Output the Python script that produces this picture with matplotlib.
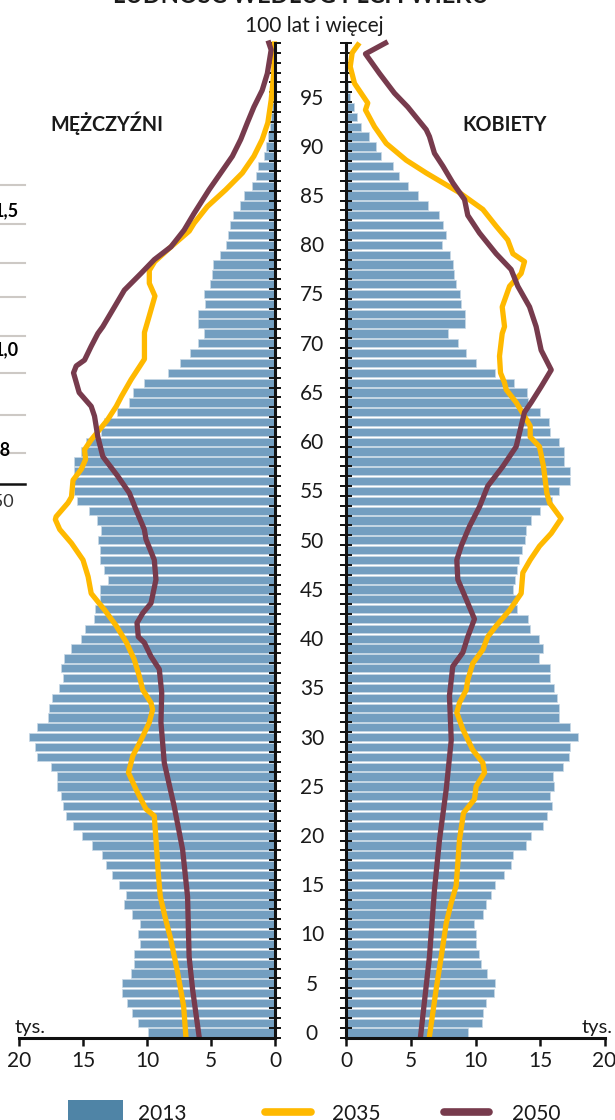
import numpy as np
import matplotlib.pyplot as plt
from matplotlib.patches import Rectangle
from matplotlib.lines import Line2D

plt.rcParams['font.family'] = ['Lato', 'DejaVu Sans']

# ludnosc w tys., wiek 0..100+
ages = np.arange(0, 101)
men_2013 = [9.91, 10.71, 11.15, 11.6, 11.93, 11.93, 11.28, 11.03, 11.03, 10.56,
            10.71, 10.56, 11.15, 11.8, 11.62, 12.22, 12.74, 13.18, 13.51, 14.32,
            15.04, 15.82, 16.32, 16.58, 16.73, 17.04, 17.04, 17.5, 18.6, 18.73,
            19.2, 18.62, 17.77, 17.64, 17.46, 16.89, 16.58, 16.73, 16.47, 15.95,
            15.18, 14.86, 14.14, 14.09, 13.67, 13.67, 13.05, 13.36, 13.67, 13.67,
            13.83, 13.62, 13.93, 14.55, 15.49, 15.74, 15.82, 15.7, 15.7, 15.18,
            14.73, 13.62, 13.36, 12.37, 11.44, 11.13, 10.2, 8.35, 7.45, 6.66,
            6.0, 5.54, 6.03, 6.03, 5.43, 5.54, 5.07, 4.94, 4.84, 4.3,
            3.8, 3.64, 3.52, 3.25, 2.74, 2.43, 1.83, 1.47, 1.35, 0.88,
            0.69, 0.56, 0.4, 0.3, 0.2, 0.12, 0.08, 0.05, 0.03, 0.02, 0.02]
women_2013 = [9.4, 10.52, 10.57, 10.78, 11.45, 11.55, 10.9, 10.44, 10.26, 10.05,
              10.05, 9.9, 10.62, 10.83, 11.19, 11.5, 12.2, 12.74, 12.89, 13.88,
              14.29, 15.22, 15.58, 15.9, 15.74, 16.07, 16.0, 16.77, 17.24, 17.36,
              17.96, 17.36, 16.51, 16.51, 16.3, 16.1, 15.74, 15.74, 14.96, 15.22,
              14.91, 14.26, 14.05, 13.2, 13.2, 12.89, 13.07, 13.23, 13.41, 13.57,
              13.85, 13.93, 14.32, 15.01, 15.92, 16.51, 17.29, 17.29, 16.87, 16.87,
              16.46, 15.79, 15.68, 14.99, 14.08, 14.0, 12.97, 11.55, 10.05, 9.3,
              8.68, 7.86, 9.22, 9.2, 8.84, 8.79, 8.48, 8.37, 8.29, 8.04,
              7.42, 7.73, 7.5, 7.16, 6.3, 5.53, 4.78, 4.06, 3.64, 2.71,
              2.3, 1.73, 1.14, 0.8, 0.6, 0.25, 0.12, 0.07, 0.05, 0.03, 0.02]

# prognozy
men_2035_age = [100.4, 97.4, 94.7, 92.4, 90.7, 89.0, 87.3, 85.6, 83.9, 82.2, 81.4,
                79.8, 78.3, 77.4, 76.1, 74.8, 72.8, 71.1, 68.4, 66.3, 64.6, 63.6,
                62.2, 60.2, 59.2, 58.2, 57.2, 56.1, 54.4, 53.8, 52.4, 52.1, 51.1,
                49.7, 48.0, 46.3, 44.6, 42.9, 41.3, 39.6, 37.9, 36.2, 34.8, 33.5,
                32.8, 31.5, 29.7, 28.1, 26.4, 24.7, 22.7, 22.0, 19.6, 16.2, 13.8,
                11.8, 9.4, 6.1, 2.7, -0.4]
men_2035 = [0.05, 0.1, 0.3, 0.56, 1.0, 1.65, 2.55, 3.85, 5.28, 6.32, 6.7,
            8.13, 9.4, 9.82, 9.82, 9.38, 9.82, 10.2, 10.2, 11.25, 12.0, 12.4,
            13.1, 14.36, 14.88, 14.8, 15.14, 15.78, 15.9, 16.17, 17.1, 17.16, 16.82,
            15.9, 15.0, 14.6, 14.36, 13.3, 12.4, 11.6, 11.0, 10.6, 10.33, 9.69,
            9.56, 9.82, 10.47, 11.11, 11.45, 10.86, 10.08, 9.43, 9.3, 9.12, 8.96,
            8.6, 8.13, 7.61, 7.14, 6.96]
men_2050_age = [100.5, 99.8, 97.4, 95.7, 94.0, 92.4, 90.7, 89.0, 87.3, 85.6, 83.2,
                81.5, 79.8, 78.5, 77.1, 75.4, 73.7, 71.7, 71.0, 69.7, 68.3, 67.7,
                67.0, 65.0, 63.6, 62.6, 60.5, 58.5, 56.5, 54.8, 53.1, 51.1, 50.1,
                48.0, 46.0, 43.6, 42.6, 41.6, 40.2, 39.6, 38.2, 36.9, 34.5, 31.5,
                27.4, 23.0, 18.6, 13.8, 7.7, 4.4, -0.4]
men_2050 = [0.48, 0.3, 0.6, 1.0, 1.65, 2.16, 2.68, 3.33, 4.24, 5.15, 6.32,
            7.1, 8.13, 9.43, 10.47, 11.77, 12.54, 13.45, 13.84, 14.36, 14.88, 15.53,
            15.74, 15.3, 14.36, 14.1, 13.84, 13.45, 12.28, 11.38, 10.86, 10.21, 10.08,
            9.43, 9.3, 9.69, 10.33, 10.78, 10.68, 10.21, 9.69, 9.04, 8.85, 8.91,
            8.65, 7.88, 7.22, 6.83, 6.71, 6.44, 5.93]
women_2035_age = [100.3, 99.5, 98.1, 96.4, 94.4, 93.7, 92.0, 90.3, 88.6, 87.3, 86.3,
                  85.3, 83.6, 81.9, 80.5, 79.1, 78.3, 77.1, 75.8, 73.7, 71.7, 71.0,
                  68.7, 67.0, 66.0, 65.3, 64.0, 62.6, 61.6, 60.5, 59.5, 57.5, 54.8,
                  53.8, 52.2, 50.7, 49.4, 48.0, 46.7, 44.6, 42.9, 41.3, 40.2, 38.9,
                  37.5, 35.8, 34.8, 33.5, 32.5, 30.8, 28.7, 27.4, 26.4, 25.0, 23.7,
                  22.3, 19.6, 14.9, 13.2, 11.1, 7.7, 4.4, -0.4]
women_2035 = [0.88, 0.44, 0.29, 0.62, 1.65, 1.47, 2.17, 3.08, 4.63, 6.18, 7.47,
              8.76, 10.57, 11.6, 12.5, 12.9, 13.8, 13.54, 12.64, 12.07, 12.25, 12.07,
              11.86, 11.94, 12.25, 12.38, 13.15, 13.8, 14.24, 14.24, 14.96, 15.27, 15.53,
              15.74, 16.64, 15.87, 14.96, 14.24, 13.67, 13.54, 12.64, 11.6, 10.95, 10.57,
              9.79, 9.4, 9.28, 8.76, 8.55, 9.02, 9.79, 10.57, 10.7, 10.05, 9.92,
              9.07, 8.76, 8.5, 8.12, 7.73, 7.34, 6.95, 6.43]
women_2050_age = [100.5, 99.4, 97.4, 95.4, 94.0, 91.7, 91.0, 89.3, 88.0, 86.3, 84.6,
                  83.0, 81.2, 79.1, 77.5, 75.8, 73.7, 71.7, 69.3, 67.3, 65.6, 64.0,
                  63.0, 61.6, 59.5, 57.5, 55.5, 53.4, 51.4, 49.4, 48.0, 46.0, 44.0,
                  42.0, 40.2, 38.6, 37.2, 34.2, 29.7, 24.7, 19.6, 14.5, 7.7, -0.4]
women_2050 = [3.02, 1.47, 2.56, 3.72, 4.75, 6.18, 6.43, 6.82, 7.47, 8.24, 9.15,
              9.4, 10.31, 11.6, 12.76, 13.28, 14.19, 14.7, 15.09, 15.87, 15.09, 14.32,
              13.8, 13.54, 13.15, 12.12, 10.95, 10.31, 9.53, 8.89, 8.55, 8.63, 9.28,
              9.92, 9.4, 9.02, 8.24, 7.98, 8.12, 7.73, 7.21, 6.82, 6.43, 5.74]

age_labels = list(range(0, 100, 5))
x_ticks = [0, 5, 10, 15, 20]
years = ['2013', '2035', '2050']

BAR = '#739ec0'
YEL = '#ffb900'
MAR = '#773b4d'
TXT = '#1a1a1a'

W, H = 615, 1120
fig = plt.figure(figsize=(W / 100, H / 100), dpi=100)


def box(x0, x1):
    return [x0 / W, 1 - 1037.5 / H, (x1 - x0) / W, 994.5 / H]


def fx(px):
    return px / W


def fy(py):
    return 1 - py / H


axL = fig.add_axes(box(19, 275))
axR = fig.add_axes(box(346.5, 604.5))

for ax, bars, a35, v35, a50, v50 in [
        (axL, men_2013, men_2035_age, men_2035, men_2050_age, men_2050),
        (axR, women_2013, women_2035_age, women_2035, women_2050_age, women_2050)]:
    ax.barh(ages, bars, height=0.84, color=BAR, edgecolor='#c9d9e6', linewidth=0.5, zorder=1)
    ax.plot(v35, a35, color=YEL, lw=3.8, solid_joinstyle='round', clip_on=False, zorder=3)
    ax.plot(v50, a50, color=MAR, lw=3.8, solid_joinstyle='round', clip_on=False, zorder=4)
    ax.set_ylim(-0.5, 100.5)
    ax.set_yticks(np.arange(-0.5, 101, 1))
    ax.set_yticklabels([])
    ax.set_xticks(x_ticks)
    ax.tick_params(axis='y', direction='inout', length=9, width=1.4, color='#111111')
    ax.tick_params(axis='x', direction='out', length=6, width=1.8, labelsize=15, pad=4,
                   color='#111111', labelcolor=TXT)
    for s in ['top', 'left', 'right', 'bottom']:
        ax.spines[s].set_linewidth(2.2)
        ax.spines[s].set_color('#111111')
        ax.spines[s].set_zorder(5)
    ax.set_facecolor('none')

axL.set_xlim(20, 0)
axL.spines['top'].set_visible(False)
axL.spines['left'].set_visible(False)
axL.yaxis.tick_right()
axR.set_xlim(0, 20)
axR.spines['top'].set_visible(False)
axR.spines['right'].set_visible(False)

# wiek na srodku
for a in age_labels:
    axR.text(-0.134, a - 0.75, str(a), transform=axR.get_yaxis_transform(),
             ha='center', va='baseline', fontsize=15, color=TXT)

fig.text(fx(314), fy(32), '100 lat i więcej', ha='center', va='baseline', fontsize=15, color=TXT)
fig.text(fx(301), fy(3), 'LUDNOŚĆ WEDŁUG PŁCI I WIEKU', ha='center', va='baseline',
         fontsize=17, fontweight='bold', color=TXT)
fig.text(fx(107), fy(131), 'MĘŻCZYŹNI', ha='center', va='baseline', fontsize=14.2,
         fontweight='bold', color=TXT)
fig.text(fx(505), fy(131), 'KOBIETY', ha='center', va='baseline', fontsize=14.2,
         fontweight='bold', color=TXT)
fig.text(fx(15), fy(1033), 'tys.', ha='left', va='baseline', fontsize=14.5, color=TXT)
fig.text(fx(613), fy(1033), 'tys.', ha='right', va='baseline', fontsize=14.5, color=TXT)

# resztki sasiedniego wykresu po lewej
for yy in [185, 224, 263, 297, 336, 373, 415, 453]:
    fig.add_artist(Line2D([0, fx(25)], [fy(yy)] * 2, color='#cdc9c5', lw=1.5))
fig.add_artist(Line2D([0, fx(25)], [fy(484)] * 2, color='#111111', lw=1.8))
fig.text(fx(19), fy(216), '1,5', ha='right', va='baseline', fontsize=13, fontweight='bold')
fig.text(fx(19), fy(355), '1,0', ha='right', va='baseline', fontsize=13, fontweight='bold')
fig.text(fx(11), fy(455), '0,8', ha='right', va='baseline', fontsize=13, fontweight='bold')
fig.text(fx(14), fy(507), '2050', ha='right', va='baseline', fontsize=13, color='#333333')

# legenda
fig.add_artist(Rectangle((fx(68), 0), fx(123) - fx(68), fy(1100), transform=fig.transFigure,
                         facecolor='#4f84a6', edgecolor='none'))
fig.add_artist(Line2D([fx(265), fx(311)], [fy(1112)] * 2, color=YEL, lw=5.5,
                      solid_capstyle='round'))
fig.add_artist(Line2D([fx(444), fx(489)], [fy(1112)] * 2, color=MAR, lw=5.5,
                      solid_capstyle='round'))
for xx, lab in zip([138, 332, 512], years):
    fig.text(fx(xx), fy(1120), lab, ha='left', va='baseline', fontsize=15, color=TXT)

fig.savefig('out.png', dpi=100)
